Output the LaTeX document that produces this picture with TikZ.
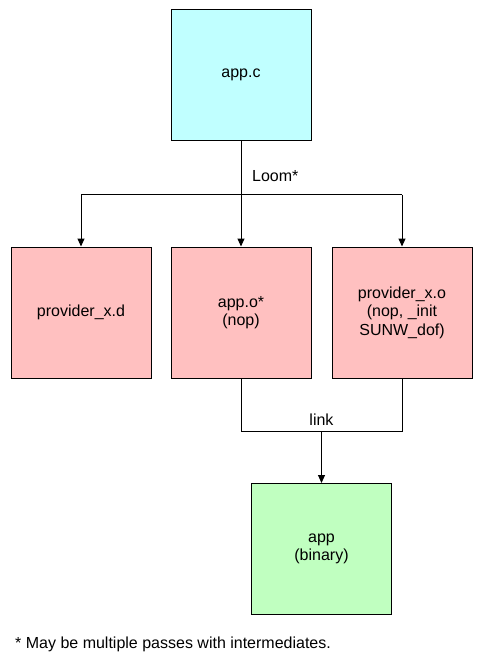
\documentclass[tikz,border=0pt]{standalone}
\usepackage{fontspec}
\setmainfont{Liberation Sans}
\usetikzlibrary{arrows.meta}
\definecolor{cyanfill}{RGB}{192,255,255}
\definecolor{pinkfill}{RGB}{255,192,192}
\definecolor{greenfill}{RGB}{192,255,192}
\begin{document}
\begin{tikzpicture}[x=1pt,y=-1pt,
  box/.style={draw=black,line width=1pt,minimum width=140pt,minimum height=131pt,inner sep=0pt,align=center,font=\fontsize{16}{18.5}\selectfont},
  conn/.style={draw=black,line width=1pt},
  arr/.style={conn,-{Triangle[width=7pt,length=8pt]}},
  lbl/.style={font=\fontsize{16}{18.5}\selectfont,inner sep=0pt}]
\useasboundingbox (0,0) rectangle (483,667);
\node[box,fill=cyanfill] (appc) at (241,74.5) {app.c};
\node[box,fill=pinkfill] (provd) at (81,312.5) {provider\_x.d};
\node[box,fill=pinkfill] (appo) at (241,312.5) {app.o*\\(nop)};
\node[box,fill=pinkfill] (provo) at (402,312.5) {provider\_x.o\\(nop, \_init\\SUNW\_dof)};
\node[box,fill=greenfill] (app) at (321.5,549) {app\\(binary)};
\coordinate (j1) at (241,194.5);
\coordinate (jl) at (81,194.5);
\coordinate (jr) at (402,194.5);
\draw[conn] (appc.south) -- (j1);
\draw[conn] (jl) -- (jr);
\draw[arr] (jl) -- (provd.north);
\draw[arr] (j1) -- (appo.north);
\draw[arr] (jr) -- (provo.north);
\node[lbl,anchor=base west] (loom) at (252,181) {Loom*};
\coordinate (l1) at (241,431);
\coordinate (l2) at (402,431);
\coordinate (lm) at (321.5,431);
\draw[conn] (appo.south) -- (l1) -- (l2) -- (provo.south);
\draw[arr] (lm) -- (app.north);
\node[lbl,anchor=base] (link) at (321.5,425) {link};
\node[lbl,anchor=base west] (foot) at (15,648) {* May be multiple passes with intermediates.};
\end{tikzpicture}
\end{document}
